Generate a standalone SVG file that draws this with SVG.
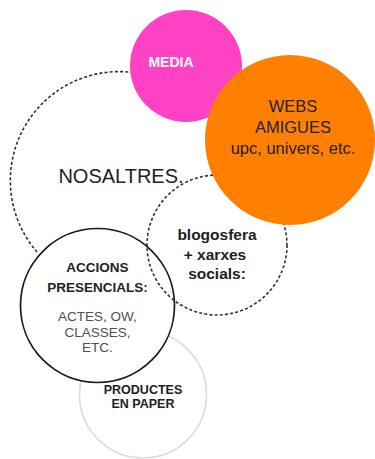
<svg xmlns="http://www.w3.org/2000/svg" width="375" height="459" viewBox="0 0 375 459">
<style>
text{font-family:"Liberation Sans",Arial,sans-serif;text-anchor:middle;fill:#222}
.dash{fill:none;stroke:#333;stroke-width:1.6;stroke-dasharray:3 2.2}
.b{font-weight:bold}
</style>
<rect width="375" height="459" fill="#fff"/>
<g id="nosaltres">
<path class="dash" d="M37,252 A109,109 0 1 1 213.4,125.5"/>
<text x="121" y="183" font-size="20">NOSALTRES.</text>
</g>
<g id="productes">
<circle cx="143" cy="394.5" r="63.5" fill="#fff" stroke="#dcdcdc" stroke-width="1.6"/>
<text class="b" x="143" y="394" font-size="12.5">PRODUCTES</text>
<text class="b" x="143" y="408" font-size="12.5">EN PAPER</text>
</g>
<g id="accions">
<circle cx="97.5" cy="305.5" r="77" fill="#fff" stroke="#1a1a1a" stroke-width="1.7"/>
<text class="b" x="97.5" y="272" font-size="13.5">ACCIONS</text>
<text class="b" x="97.5" y="292" font-size="13.5">PRESENCIALS:</text>
<text x="97.5" y="321" font-size="13.5" style="fill:#505050">ACTES, OW,</text>
<text x="97.5" y="337" font-size="13.5" style="fill:#505050">CLASSES,</text>
<text x="97.5" y="352" font-size="13.5" style="fill:#505050">ETC.</text>
</g>
<g id="blogosfera">
<circle class="dash" cx="217" cy="245" r="70"/>
<text class="b" x="217" y="240" font-size="15.5">blogosfera</text>
<text class="b" x="215" y="260" font-size="15.5">+ xarxes</text>
<text class="b" x="217" y="279" font-size="15.5">socials:</text>
</g>
<g id="media">
<circle cx="186" cy="66" r="56" fill="#ff42c4"/>
<text class="b" x="171" y="67" font-size="14" style="fill:#fff">MEDIA</text>
</g>
<g id="webs">
<circle cx="290" cy="140" r="85" fill="#ff7f00"/>
<text x="293" y="112" font-size="16.5">WEBS</text>
<text x="293" y="133" font-size="16.5">AMIGUES</text>
<text x="293" y="154" font-size="16.5">upc, univers, etc.</text>
</g>
</svg>
